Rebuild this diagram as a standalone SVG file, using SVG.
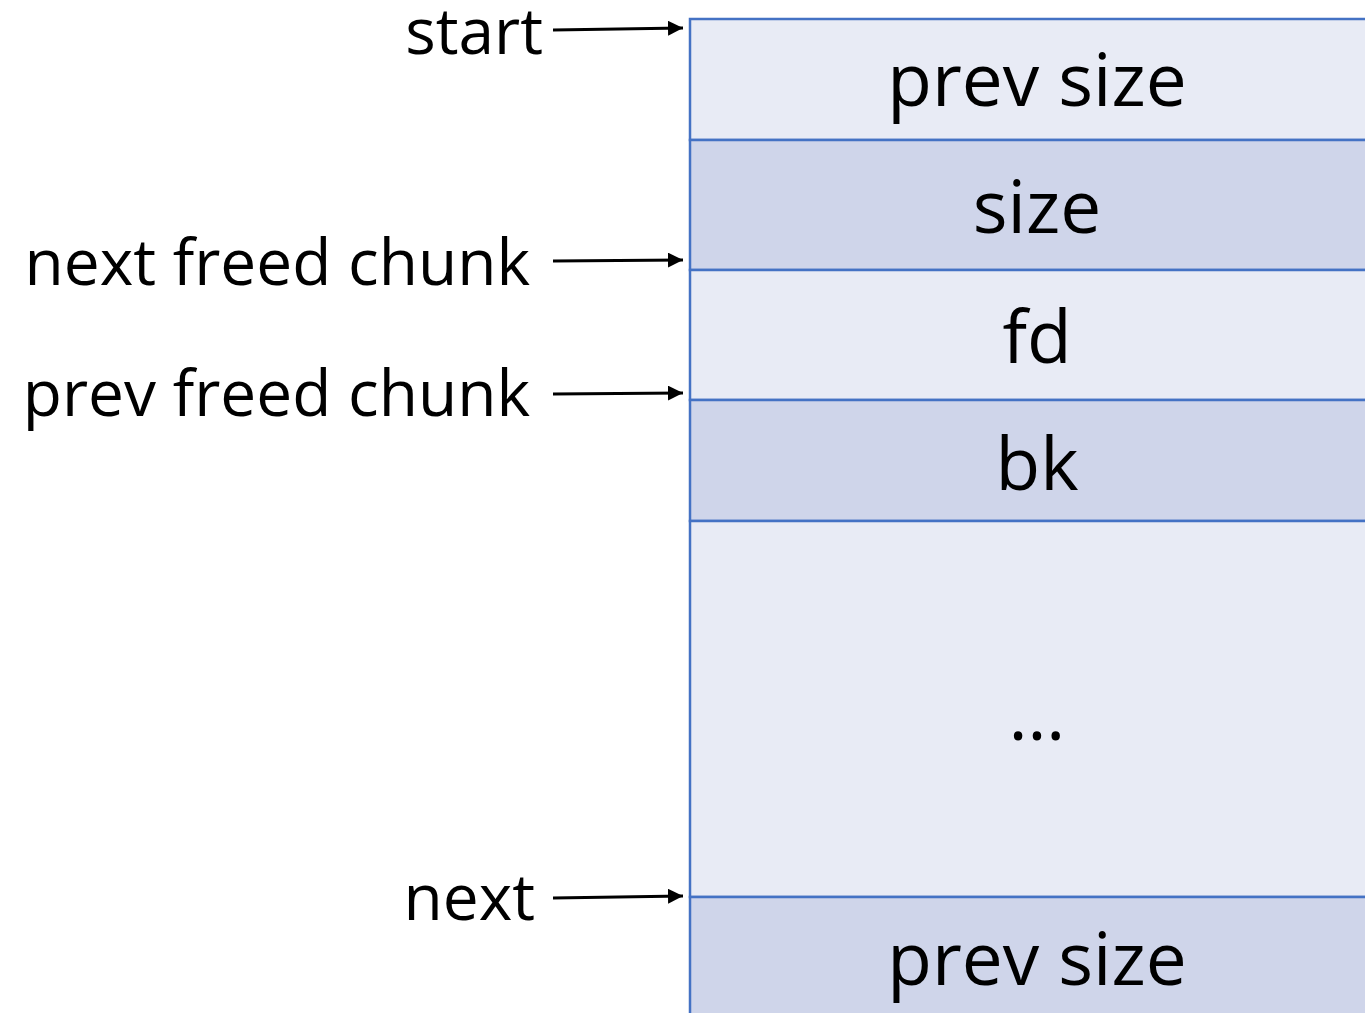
<svg xmlns="http://www.w3.org/2000/svg" width="1365" height="1013" viewBox="0 0 1365 1013">
  <defs>
    <marker id="head" viewBox="0 0 10 10" refX="10" refY="5" markerWidth="15" markerHeight="15" markerUnits="userSpaceOnUse" orient="auto">
      <path d="M0,0 L10,5 L0,10 z" fill="#000"/>
    </marker>
    <style>
      .lbl { font-family: "Open Sans", "Noto Sans", sans-serif; font-size: 64px; fill: #000; text-anchor: end; }
      .cell text { font-family: "Open Sans", "Noto Sans", sans-serif; font-size: 73px; fill: #000; text-anchor: middle; }
      .light { fill: #E8EBF5; stroke: #4472C4; stroke-width: 2.5; }
      .dark { fill: #CFD5EA; stroke: #4472C4; stroke-width: 2.5; }
      .conn line { stroke: #000; stroke-width: 3; marker-end: url(#head); }
    </style>
  </defs>
  <rect width="1365" height="1013" fill="#fff"/>

  <!-- chunk fields -->
  <g id="prev-size" class="cell">
    <rect class="light" x="690" y="19" width="700" height="121"/>
    <text x="1037" y="106">prev size</text>
  </g>
  <g id="size" class="cell">
    <rect class="dark" x="690" y="140" width="700" height="130"/>
    <text x="1037" y="233">size</text>
  </g>
  <g id="fd" class="cell">
    <rect class="light" x="690" y="270" width="700" height="130"/>
    <text x="1037" y="363">fd</text>
  </g>
  <g id="bk" class="cell">
    <rect class="dark" x="690" y="400" width="700" height="121"/>
    <text x="1037" y="490">bk</text>
  </g>
  <g id="data" class="cell">
    <rect class="light" x="690" y="521" width="700" height="376"/>
    <text x="1037" y="740">…</text>
  </g>
  <g id="next-prev-size" class="cell">
    <rect class="dark" x="690" y="897" width="700" height="130"/>
    <text x="1037" y="985">prev size</text>
  </g>

  <!-- pointer labels -->
  <g id="label-start"><text class="lbl" x="543" y="54">start</text></g>
  <g id="label-next-freed"><text class="lbl" x="530" y="285">next freed chunk</text></g>
  <g id="label-prev-freed"><text class="lbl" x="530" y="416">prev freed chunk</text></g>
  <g id="label-next"><text class="lbl" x="535" y="920">next</text></g>

  <!-- pointer arrows -->
  <g id="connectors" class="conn">
    <line x1="553" y1="30" x2="683" y2="28"/>
    <line x1="553" y1="261" x2="683" y2="260"/>
    <line x1="553" y1="394" x2="683" y2="393"/>
    <line x1="553" y1="898" x2="683" y2="896"/>
  </g>
</svg>
